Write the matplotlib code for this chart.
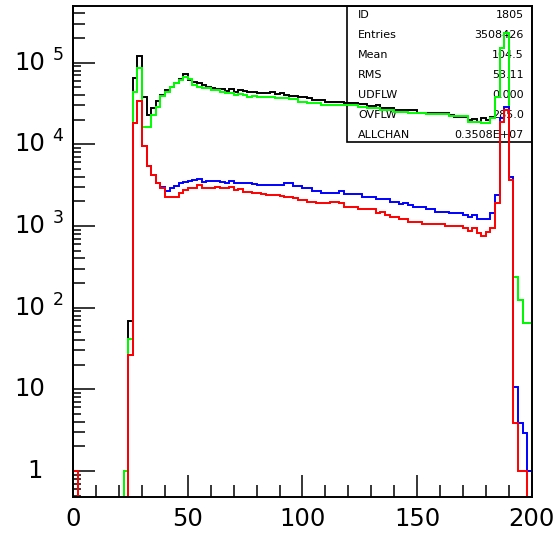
import numpy as np
import matplotlib
matplotlib.use('Agg')
import matplotlib.pyplot as plt
from matplotlib.patches import Rectangle
from matplotlib.ticker import FixedLocator, NullLocator, NullFormatter
from matplotlib.transforms import offset_copy

# 100 channels from 0 to 200
bin_edges = np.linspace(0, 200, 101)

black_counts = [
    0, 0, 0, 0, 0, 0, 0, 0, 0, 0,
    0, 1, 68, 64400, 119000, 38400, 22900, 27700, 34000, 40200,
    46300, 50900, 56000, 62600, 72200, 61400, 58500, 56000, 53400, 50900,
    48600, 47500, 47000, 45000, 47200, 44200, 46000, 44500, 43400, 43400,
    43000, 43000, 42200, 43400, 41000, 42200, 40500, 39500, 39500, 38400,
    38400, 36600, 34900, 34900, 34900, 33300, 32800, 32800, 32800, 31900,
    32400, 32400, 30900, 30900, 29500, 29500, 30300, 27700, 27700, 27700,
    26400, 26400, 26400, 26400, 26400, 24400, 24400, 24000, 24000, 24000,
    24000, 24000, 22900, 21800, 21800, 21800, 19900, 20300, 19000, 20800,
    19900, 21500, 38400, 150000, 230000, 4030, 240, 125, 65, 65,
]

green_counts = [
    0, 0, 0, 0, 0, 0, 0, 0, 0, 0,
    0, 1, 41, 44200, 85400, 16500, 16500, 22900, 28900, 39100,
    44200, 50900, 56000, 61400, 67500, 62600, 53400, 50900, 48600, 48600,
    46300, 46300, 44200, 43000, 42200, 40300, 41000, 40300, 38400, 39000,
    38400, 38400, 38400, 37700, 36600, 36600, 36600, 35600, 35600, 33300,
    33300, 32400, 32400, 32400, 30300, 30300, 30300, 30300, 30300, 30300,
    30300, 30300, 28900, 28900, 27700, 27700, 27700, 26400, 26400, 26400,
    25100, 25100, 25100, 24400, 24400, 24400, 24400, 23300, 23300, 23300,
    23300, 23300, 22300, 22300, 22300, 22300, 19000, 19000, 19000, 18100,
    18100, 20800, 38400, 150000, 230000, 4030, 240, 125, 65, 65,
]

blue_counts = [
    0, 0, 0, 0, 0, 0, 0, 0, 0, 0,
    0, 0, 26, 18100, 34300, 9640, 5480, 4220, 3340, 3040,
    2710, 2900, 3100, 3400, 3500, 3600, 3630, 3740, 3420, 3570,
    3570, 3570, 3450, 3400, 3570, 3400, 3400, 3400, 3400, 3300,
    3180, 3180, 3180, 3180, 3180, 3180, 3340, 3340, 3100, 3100,
    2900, 2900, 2710, 2710, 2520, 2520, 2520, 2520, 2680, 2450,
    2450, 2450, 2450, 2290, 2290, 2290, 2130, 2130, 2130, 1990,
    1990, 1860, 1930, 1810, 1730, 1730, 1730, 1610, 1610, 1500,
    1500, 1500, 1440, 1440, 1440, 1370, 1300, 1370, 1220, 1220,
    1220, 1460, 2400, 21000, 29000, 4030, 10.8, 3.9, 2.9, 1,
]

red_counts = [
    1, 0, 0, 0, 0, 0, 0, 0, 0, 0,
    0, 0, 26, 18100, 34300, 9640, 5480, 4220, 3340, 2900,
    2290, 2290, 2290, 2520, 2770, 2900, 2900, 3180, 2900, 2900,
    2900, 3040, 2900, 2900, 3040, 2770, 2820, 2640, 2640, 2520,
    2520, 2450, 2400, 2400, 2400, 2340, 2250, 2250, 2190, 2090,
    2090, 1990, 1990, 1900, 1900, 1900, 1990, 1990, 1930, 1730,
    1730, 1730, 1610, 1610, 1610, 1610, 1460, 1500, 1370, 1300,
    1300, 1210, 1210, 1130, 1130, 1130, 1060, 1060, 1060, 1060,
    1060, 1000, 1000, 1000, 1000, 940, 880, 940, 816, 763,
    853, 940, 1900, 19000, 26300, 3650, 3.9, 1, 1, 0,
]

stat_labels = ['ID', 'Entries', 'Mean', 'RMS', 'UDFLW', 'OVFLW', 'ALLCHAN']
stat_values = ['1805', '3508426', '104.5', '53.11', '0.000', '285.0', '0.3508E+07']

x_ticks = [0, 50, 100, 150, 200]
y_ticks = [1, 10, 100, 1e3, 1e4, 1e5]
y_tick_base = ['1', '10', '10', '10', '10', '10']
y_tick_exp = ['', '', '2', '3', '4', '5']

FLOOR = 1e-3  # empty channels drop to below the axis

fig = plt.figure(figsize=(5.56, 5.37), dpi=100)
ax = fig.add_axes([0.1318, 0.0745, 0.8245, 0.9143])
ax.set_yscale('log')
ax.set_xlim(0, 200)
ax.set_ylim(0.48, 4.94e5)

# statistics box sits behind the histograms
ax.add_patch(Rectangle((0.5964, 0.7236), 0.4036, 0.2764, transform=ax.transAxes,
                       facecolor='white', edgecolor='black', lw=1.2, zorder=1))
row_y = 0.9817 - 0.0407 * np.arange(len(stat_labels))
for yy, lab, val in zip(row_y, stat_labels, stat_values):
    ax.text(0.6217, yy, lab, transform=ax.transAxes, fontsize=8,
            ha='left', va='center', zorder=1.5)
    ax.text(0.9825, yy, val, transform=ax.transAxes, fontsize=8,
            ha='right', va='center', zorder=1.5)

for counts, col in [(black_counts, 'black'), (green_counts, '#00ff00'),
                    (blue_counts, '#0000ff'), (red_counts, '#ff0000')]:
    vals = np.clip(np.asarray(counts, dtype=float), FLOOR, None)
    ax.stairs(vals, bin_edges, baseline=FLOOR, fill=False, color=col, lw=1.4, zorder=2)

for sp in ax.spines.values():
    sp.set_linewidth(1.4)

# x axis: long ticks every 50, short every 10
ax.xaxis.set_major_locator(FixedLocator(x_ticks))
ax.xaxis.set_minor_locator(FixedLocator(np.arange(10, 200, 10)))
ax.tick_params(axis='x', which='major', direction='in', length=15.8, width=1.1,
               labelsize=17.5, pad=7, top=False)
ax.tick_params(axis='x', which='minor', direction='in', length=8.6, width=1.1, top=False)

# y axis: decades long, 5..9 short, 2..4 medium on a second axis
minor_short = [m * 10.0 ** d for d in range(-1, 6) for m in (5, 6, 7, 8, 9)]
minor_mid = [m * 10.0 ** d for d in range(0, 6) for m in (2, 3, 4)]
ax.yaxis.set_major_locator(FixedLocator(y_ticks))
ax.yaxis.set_minor_locator(FixedLocator(minor_short))
ax.yaxis.set_major_formatter(NullFormatter())
ax.yaxis.set_minor_formatter(NullFormatter())
ax.tick_params(axis='y', which='major', direction='in', length=15.8, width=1.1, right=False)
ax.tick_params(axis='y', which='minor', direction='in', length=5.8, width=1.1, right=False)

sec = ax.secondary_yaxis('left')
sec.yaxis.set_major_locator(FixedLocator(minor_mid))
sec.yaxis.set_minor_locator(NullLocator())
sec.yaxis.set_major_formatter(NullFormatter())
sec.tick_params(axis='y', direction='in', length=8.6, width=1.1)
sec.spines['left'].set_linewidth(1.4)

# decade labels drawn as "10" with a raised exponent
ytrans = ax.get_yaxis_transform()
for val, base, ex in zip(y_ticks, y_tick_base, y_tick_exp):
    dx = -31 if base == '1' else -28
    ax.text(0, val, base, transform=offset_copy(ytrans, fig=fig, x=dx, y=0, units='dots'),
            ha='right', va='center', fontsize=17.5)
    if ex:
        ax.text(0, val, ex, transform=offset_copy(ytrans, fig=fig, x=-21, y=8, units='dots'),
                ha='left', va='center', fontsize=12.5)

fig.savefig('out.png', dpi=100)
